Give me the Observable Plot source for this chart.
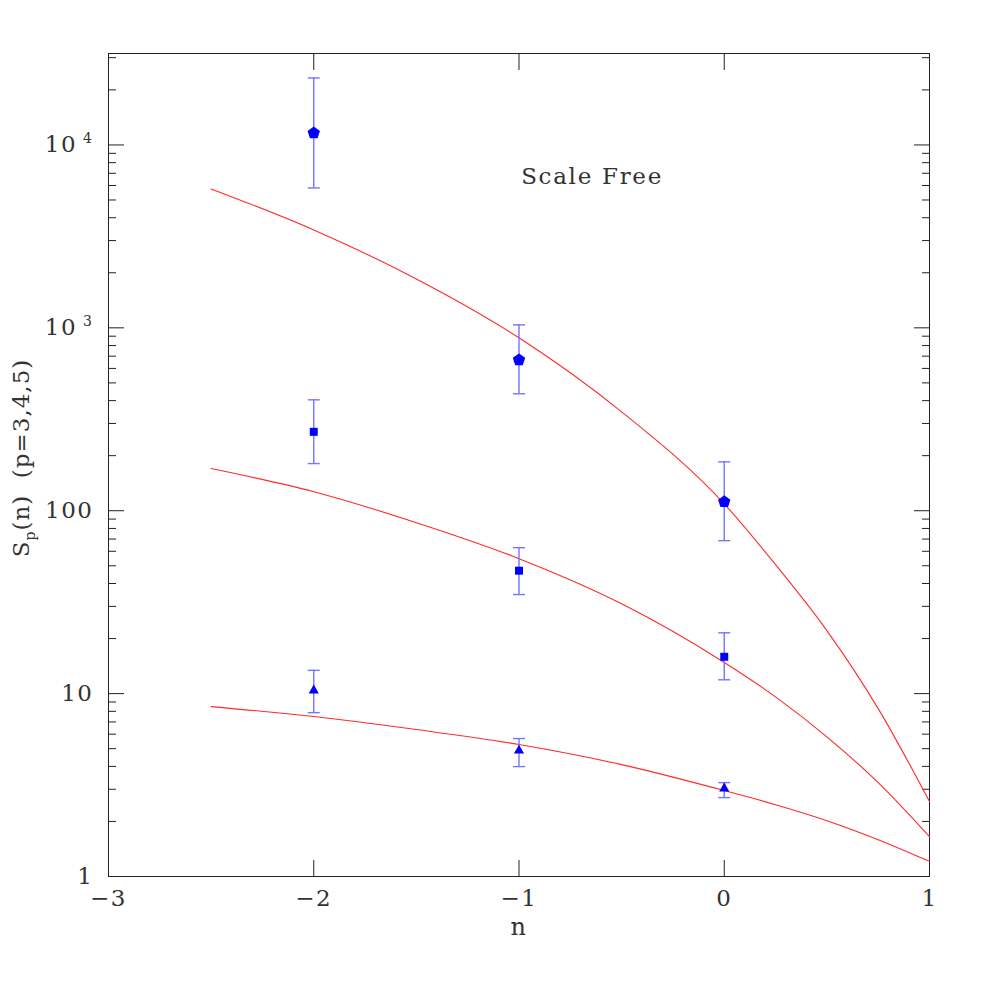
<!DOCTYPE html>
<html>
<head>
<meta charset="utf-8">
<script src="https://cdn.jsdelivr.net/npm/d3@7"></script>
<script src="https://cdn.jsdelivr.net/npm/@observablehq/plot@0.6"></script>
<style>
  body { margin: 0; background: #fff; }
  #chart svg { display: block; }
  #chart svg, #chart svg text, #chart svg tspan { font-family: "DejaVu Serif", "Liberation Serif", serif !important; font-weight: 200; }
</style>
</head>
<body>
<div id="chart"></div>
<script>
// ---- data ----
const pointN = [-2, -1, 0];
const p3Value = [10.4, 4.88, 3.03];
const p3Low = [7.87, 3.99, 2.70];
const p3High = [13.4, 5.68, 3.26];
const p4Value = [270, 47.0, 15.9];
const p4Low = [181, 34.8, 11.9];
const p4High = [404, 62.8, 21.5];
const p5Value = [11630, 668, 112];
const p5Low = [5820, 436, 68.6];
const p5High = [23240, 1038, 185];

const curveN = [-2.5, -2, -1.5, -1, -0.5, 0, 0.25, 0.5, 0.75, 1];
const curveP3 = [8.49, 7.49, 6.36, 5.27, 4.09, 2.95, 2.47, 2.02, 1.59, 1.21];
const curveP4 = [170, 127, 86, 54.7, 31, 14.8, 9.6, 5.8, 3.26, 1.65];
const curveP5 = [5750, 3430, 1850, 882, 347, 109, 50.7, 22.1, 8.28, 2.57];

const xTicks = [-3, -2, -1, 0, 1];
const yMajorTicks = [1, 10, 100, 1000, 10000];
const yTickLabels = ["1", "10", "100", "10^3", "10^4"];
const yMinorTicks = [2, 3, 4, 5, 6, 7, 8, 9,
  20, 30, 40, 50, 60, 70, 80, 90,
  200, 300, 400, 500, 600, 700, 800, 900,
  2000, 3000, 4000, 5000, 6000, 7000, 8000, 9000,
  20000, 30000];

const annotationText = "Scale Free";
const annotationN = -0.644;
const annotationS = 6100;

// ---- tables ----
const pts = (vals, lo, hi) => pointN.map((n, i) => ({n, v: vals[i], lo: lo[i], hi: hi[i]}));
const p3 = pts(p3Value, p3Low, p3High);
const p4 = pts(p4Value, p4Low, p4High);
const p5 = pts(p5Value, p5Low, p5High);
const curves = [
  ...curveN.map((n, i) => ({series: "p3", n, v: curveP3[i]})),
  ...curveN.map((n, i) => ({series: "p4", n, v: curveP4[i]})),
  ...curveN.map((n, i) => ({series: "p5", n, v: curveP5[i]}))
];

// ---- custom symbols ----
const pentagon = {
  draw(ctx, size) {
    const r = Math.sqrt(size / Math.PI);
    for (let i = 0; i < 5; i++) {
      const a = -Math.PI / 2 + i * 2 * Math.PI / 5;
      const px = r * Math.cos(a), py = r * Math.sin(a);
      if (i === 0) ctx.moveTo(px, py); else ctx.lineTo(px, py);
    }
    ctx.closePath();
  }
};
const hline = {
  draw(ctx, size) {
    const w = Math.sqrt(size / Math.PI);
    ctx.moveTo(-w, 0);
    ctx.lineTo(w, 0);
  }
};

const errColor = "#7474ff";
const ptColor = "#0000ff";
const curveColor = "#ff2a2a";
const ink = "#333";

const errorMarks = (data) => [
  Plot.ruleX(data, {x: "n", y1: "lo", y2: "hi", stroke: errColor, strokeWidth: 1.4}),
  Plot.dot(data, {x: "n", y: "lo", symbol: hline, r: 6, stroke: errColor, fill: "none", strokeWidth: 1.4}),
  Plot.dot(data, {x: "n", y: "hi", symbol: hline, r: 6, stroke: errColor, fill: "none", strokeWidth: 1.4})
];

const fmtX = d => d < 0 ? "\u2212" + Math.abs(d) : String(d);

const chart = Plot.plot({
  width: 981,
  height: 981,
  marginTop: 53,
  marginRight: 52,
  marginBottom: 105,
  marginLeft: 108,
  style: {fontFamily: "DejaVu Serif", fontSize: "23px", color: ink, background: "#fff"},
  x: {domain: [-3, 1]},
  y: {type: "log", domain: [1, Math.pow(10, 4.5)]},
  marks: [
    // ticks (inward)
    Plot.axisY(yMinorTicks, {anchor: "left", tickSize: -8, fill: "none", label: null, stroke: "#222"}),
    Plot.axisY(yMinorTicks, {anchor: "right", tickSize: -8, fill: "none", label: null, stroke: "#222"}),
    Plot.axisY(yMajorTicks, {anchor: "left", tickSize: -16, fill: "none", label: null, stroke: "#222"}),
    Plot.axisY(yMajorTicks, {anchor: "right", tickSize: -16, fill: "none", label: null, stroke: "#222"}),
    Plot.axisX(xTicks, {anchor: "bottom", tickSize: -16, fill: "none", label: null, stroke: "#222"}),
    Plot.axisX(xTicks, {anchor: "top", tickSize: -16, fill: "none", label: null, stroke: "#222"}),
    // tick labels
    Plot.axisY(yMajorTicks, {anchor: "left", tickSize: 0, tickPadding: 15, label: null,
      tickFormat: d => yTickLabels[yMajorTicks.indexOf(d)], fill: ink}),
    Plot.axisX(xTicks, {anchor: "bottom", tickSize: 0, tickPadding: 13, label: null,
      tickFormat: fmtX, fill: ink}),
    Plot.frame({stroke: "#222"}),
    // model curves
    Plot.line(curves, {x: "n", y: "v", z: "series", stroke: curveColor, strokeWidth: 1.1, curve: "monotone-x"}),
    // error bars
    ...errorMarks(p5),
    ...errorMarks(p4),
    ...errorMarks(p3),
    // points
    Plot.dot(p5, {x: "n", y: "v", symbol: pentagon, r: 6.5, fill: ptColor, stroke: "none"}),
    Plot.dot(p4, {x: "n", y: "v", symbol: "square", r: 4.5, fill: ptColor, stroke: "none"}),
    Plot.dot(p3, {x: "n", y: "v", symbol: "triangle", r: 3.8, fill: ptColor, stroke: "none"}),
    // annotation and x title
    Plot.text([annotationText], {x: () => annotationN, y: () => annotationS, text: d => d,
      fill: ink, fontSize: 23, textAnchor: "middle", lineAnchor: "bottom"}),
    Plot.text(["n"], {frameAnchor: "bottom", dy: 58, text: d => d, fill: ink, fontSize: 24, lineAnchor: "bottom"})
  ]
});

document.getElementById("chart").appendChild(chart);

const svg = d3.select(chart);
svg.attr("font-family", "DejaVu Serif");

// letter spacing for the wide plotter-style lettering
svg.selectAll("text").attr("letter-spacing", 1.5);

// superscript exponents on y tick labels
svg.selectAll("text").each(function() {
  const t = d3.select(this);
  const s = t.text();
  const m = /^10\^(\d+)$/.exec(s);
  if (m) {
    t.text("10");
    t.append("tspan").attr("dx", 6).attr("dy", -9).attr("font-size", 14).text(m[1]);
  }
});
svg.selectAll("text").filter(function() { return d3.select(this).text() === annotationText; })
  .attr("letter-spacing", 1.7);

// y-axis title with subscript
const yt = svg.append("text")
  .attr("transform", "translate(29,458) rotate(-90)")
  .attr("text-anchor", "middle")
  .attr("fill", ink)
  .attr("font-size", 23)
  .attr("letter-spacing", 1);
yt.append("tspan").text("S");
yt.append("tspan").attr("font-size", 14).attr("dy", 6).text("p");
yt.append("tspan").attr("dy", -6).text("(n)\u00a0\u00a0(p=3,4,5)");
</script>
</body>
</html>
